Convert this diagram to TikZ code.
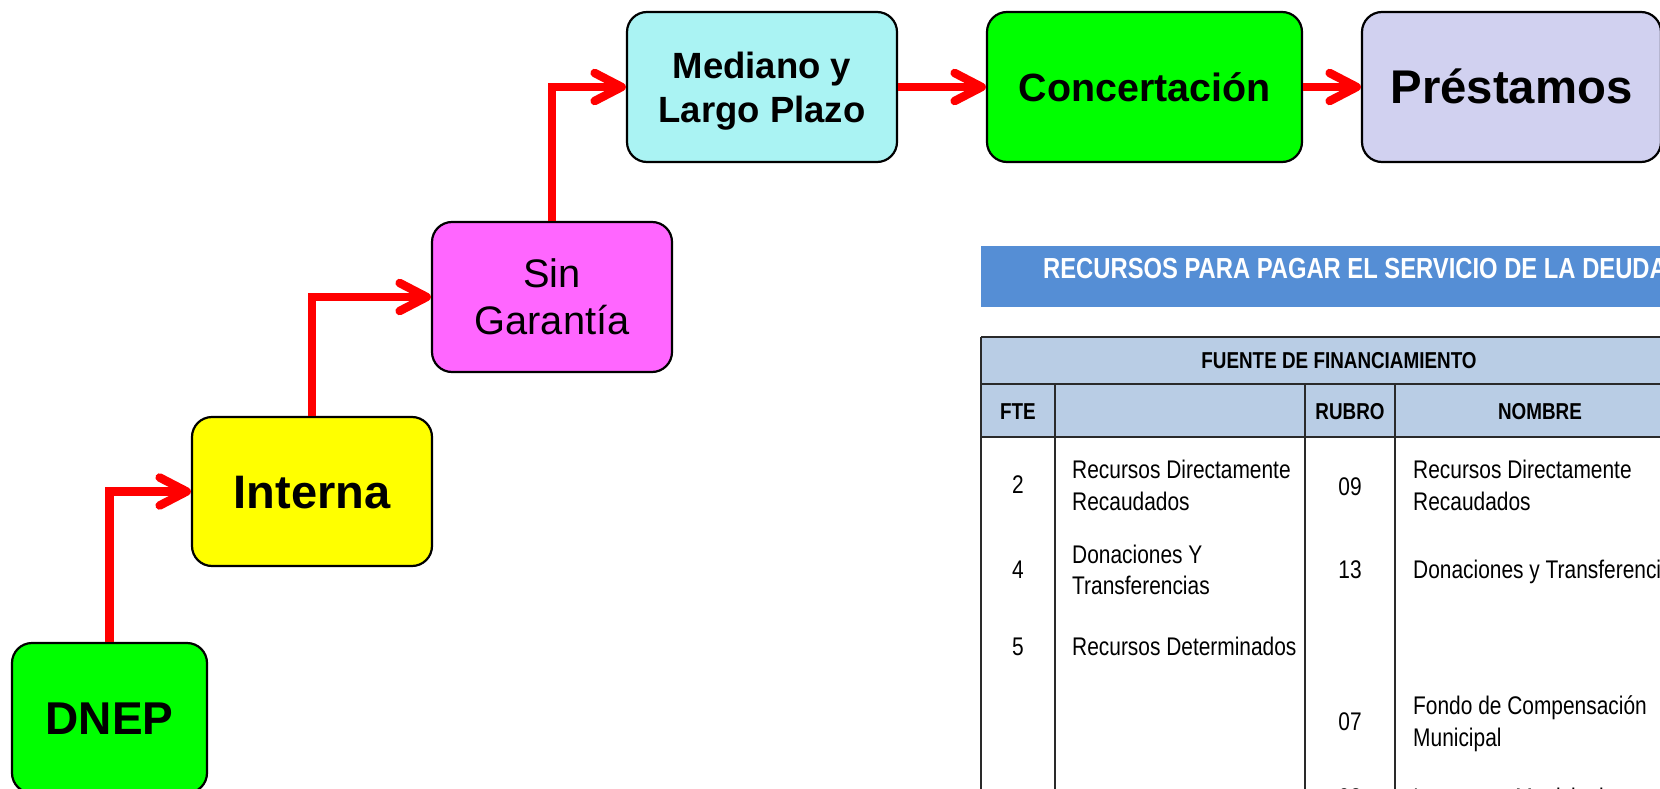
\documentclass[tikz,border=0pt]{standalone}
\usepackage{fontspec}
\setmainfont{Liberation Sans}
\newfontfamily\narrowfont[FakeStretch=0.82]{Liberation Sans}
\usetikzlibrary{arrows.meta}
\definecolor{cgreen}{HTML}{00FF00}
\definecolor{cyellow}{HTML}{FFFF00}
\definecolor{cpink}{HTML}{FF66FF}
\definecolor{ccyan}{HTML}{AAF3F3}
\definecolor{clav}{HTML}{D1D1F0}
\definecolor{cbar}{HTML}{558ED5}
\definecolor{chead}{HTML}{B9CDE5}
\definecolor{cred}{HTML}{FF0000}
\definecolor{cgrid}{HTML}{2A2A2A}
\begin{document}
\begin{tikzpicture}[x=1pt,y=-1pt,
  box/.style={draw=black, line width=2.2pt, rounded corners=20pt, inner sep=0pt, align=center, text depth=0pt},
  flow/.style={draw=cred, line width=8.5pt, -{Straight Barb[length=27pt,width=28pt,line cap=round,line join=round]}},
  grid/.style={draw=cgrid, line width=2pt},
  cell/.style={font={\narrowfont\fontsize{25.5}{30}\selectfont}, inner sep=0pt, text=black},
  headcell/.style={font={\narrowfont\bfseries\fontsize{23}{28}\selectfont}, inner sep=0pt, text=black},
]
\useasboundingbox (0,0) rectangle (1660,789);
% flow boxes
\node[box, fill=cgreen, minimum width=195pt, minimum height=150pt, text height=33pt, font={\bfseries\fontsize{46}{55}\selectfont}] (dnep) at (109.5,718) {DNEP};
\node[box, fill=cyellow, minimum width=240pt, minimum height=149pt, text height=33.6pt, font={\bfseries\fontsize{47}{56}\selectfont}] (interna) at (312,491.5) {Interna};
\node[box, fill=cpink, minimum width=240pt, minimum height=150pt, font={\fontsize{39.8}{47}\selectfont}] (sin) at (552,297) {Sin\\Garantía};
\node[box, fill=ccyan, minimum width=270pt, minimum height=150pt, font={\bfseries\fontsize{36.5}{44}\selectfont}] (med) at (762,87) {Mediano y\\Largo Plazo};
\node[box, fill=cgreen, minimum width=315pt, minimum height=150pt, text height=28.3pt, font={\bfseries\fontsize{39.4}{47}\selectfont}] (conc) at (1144.5,87) {Concertación};
\node[box, fill=clav, minimum width=299pt, minimum height=150pt, text height=33.8pt, font={\bfseries\fontsize{47.3}{56}\selectfont}] (prest) at (1511.5,87) {Préstamos};
% connectors
\draw[flow] (dnep.north) |- (interna.west);
\draw[flow] (interna.north) |- (sin.west);
\draw[flow] (sin.north) |- (med.west);
\draw[flow] (med.east) -- (conc.west);
\draw[flow] (conc.east) -- (prest.west);
% title bar
\fill[cbar] (981,246) rectangle (1700,307);
\node[anchor=base west, inner sep=0pt, text=white, font={\narrowfont\bfseries\fontsize{29}{34}\selectfont}] (title) at (1043,278) {RECURSOS PARA PAGAR EL SERVICIO DE LA DEUDA};
% table
\fill[chead] (981,337) rectangle (1700,437);
\draw[grid] (981,337) -- (1700,337);
\draw[grid] (981,384) -- (1700,384);
\draw[grid] (981,437) -- (1700,437);
\draw[grid] (981,337) -- (981,800);
\draw[grid] (1055,384) -- (1055,800);
\draw[grid] (1305,384) -- (1305,800);
\draw[grid] (1395,384) -- (1395,800);
\node[headcell, anchor=base] (hfuente) at (1339,368) {FUENTE DE FINANCIAMIENTO};
\node[headcell, anchor=base] (hfte) at (1018,419) {FTE};
\node[headcell, anchor=base] (hrubro) at (1350,419) {RUBRO};
\node[headcell, anchor=base] (hnombre) at (1540,419) {NOMBRE};
% rows
\node[cell, anchor=base] (f2) at (1018,493) {2};
\node[cell, anchor=base west] (d2a) at (1072,478) {Recursos Directamente};
\node[cell, anchor=base west] (d2b) at (1072,510) {Recaudados};
\node[cell, anchor=base] (r09) at (1350,495) {09};
\node[cell, anchor=base west] (n09a) at (1413,478) {Recursos Directamente};
\node[cell, anchor=base west] (n09b) at (1413,510) {Recaudados};
\node[cell, anchor=base] (f4) at (1018,578) {4};
\node[cell, anchor=base west] (d4a) at (1072,563) {Donaciones Y};
\node[cell, anchor=base west] (d4b) at (1072,594) {Transferencias};
\node[cell, anchor=base] (r13) at (1350,578) {13};
\node[cell, anchor=base west] (n13) at (1413,578) {Donaciones y Transferencias};
\node[cell, anchor=base] (f5) at (1018,655) {5};
\node[cell, anchor=base west] (d5) at (1072,655) {Recursos Determinados};
\node[cell, anchor=base] (r07) at (1350,730) {07};
\node[cell, anchor=base west] (n07a) at (1413,714) {Fondo de Compensación};
\node[cell, anchor=base west] (n07b) at (1413,746) {Municipal};
\node[cell, anchor=base] (r08) at (1350,806) {08};
\node[cell, anchor=base west] (n08) at (1413,806) {Impuestos Municipales};
\end{tikzpicture}
\end{document}
